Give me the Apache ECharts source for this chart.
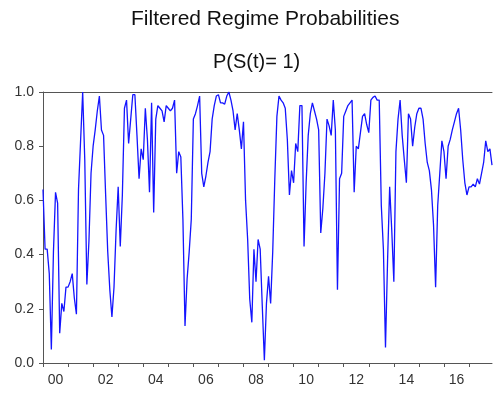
<!DOCTYPE html>
<html>
<head>
<meta charset="utf-8">
<script src="https://cdn.jsdelivr.net/npm/echarts@6/dist/echarts.min.js"></script>
<style>
  html, body { margin: 0; padding: 0; background: #fff; }
  #chart { width: 493px; height: 393px; }
</style>
</head>
<body>
<div id="chart"></div>
<script>
// Monthly sample, January 2000 to December 2017
const startYear = 2000;
const endYear = 2017;

// Filtered probability of regime 1, one value per month
const probRegime1 = [
  0.64, 0.42, 0.42, 0.33, 0.05, 0.41, 0.63, 0.59, 0.11, 0.22, 0.19, 0.28,
  0.28, 0.30, 0.33, 0.24, 0.18, 0.64, 0.82, 1.00, 0.75, 0.29, 0.45, 0.70,
  0.80, 0.86, 0.93, 0.985, 0.86, 0.84, 0.62, 0.41, 0.27, 0.17, 0.28, 0.49,
  0.65, 0.43, 0.62, 0.94, 0.97, 0.81, 0.90, 0.99, 0.99, 0.84, 0.68, 0.79,
  0.75, 0.94, 0.825, 0.63, 0.96, 0.555, 0.90, 0.95, 0.94, 0.93, 0.89, 0.95,
  0.94, 0.93, 0.94, 0.97, 0.70, 0.78, 0.76, 0.53, 0.137, 0.31, 0.41, 0.53,
  0.90, 0.92, 0.95, 0.985, 0.70, 0.65, 0.69, 0.74, 0.78, 0.90, 0.95, 0.985,
  0.99, 0.96, 0.96, 0.955, 0.985, 1.00, 0.97, 0.93, 0.86, 0.92, 0.86, 0.79,
  0.89, 0.60, 0.456, 0.235, 0.15, 0.42, 0.30, 0.456, 0.42, 0.21, 0.01, 0.22,
  0.32, 0.22, 0.41, 0.68, 0.91, 0.985, 0.97, 0.96, 0.94, 0.825, 0.62, 0.71,
  0.665, 0.81, 0.78, 0.95, 0.95, 0.43, 0.665, 0.84, 0.92, 0.96, 0.93, 0.90,
  0.86, 0.48, 0.57, 0.70, 0.90, 0.875, 0.84, 0.97, 0.86, 0.27, 0.68, 0.70,
  0.91, 0.93, 0.95, 0.96, 0.97, 0.63, 0.80, 0.79, 0.85, 0.91, 0.92, 0.88,
  0.85, 0.97, 0.98, 0.985, 0.97, 0.97, 0.58, 0.42, 0.057, 0.38, 0.65, 0.49,
  0.30, 0.78, 0.90, 0.97, 0.84, 0.75, 0.665, 0.92, 0.90, 0.80, 0.87, 0.92,
  0.94, 0.94, 0.90, 0.81, 0.74, 0.71, 0.64, 0.51, 0.28, 0.58, 0.70, 0.82,
  0.78, 0.68, 0.80, 0.825, 0.86, 0.89, 0.92, 0.94, 0.86, 0.75, 0.665, 0.62,
  0.65, 0.65, 0.66, 0.65, 0.68, 0.66, 0.70, 0.74, 0.82, 0.78, 0.79, 0.73
];

// Y axis tick labels
const yTicks = [0.0, 0.2, 0.4, 0.6, 0.8, 1.0];

const months = [];
for (let y = startYear; y <= endYear; y++) {
  for (let m = 1; m <= 12; m++) {
    months.push(y + '-' + String(m).padStart(2, '0'));
  }
}

const axisColor = '#555';
const labelFont = { fontFamily: 'Liberation Sans, Arial, sans-serif', fontSize: 14, color: '#333' };

const chart = echarts.init(document.getElementById('chart'), null, { renderer: 'canvas' });
chart.setOption({
  animation: false,
  backgroundColor: '#fff',
  graphic: [
    {
      type: 'text', left: 268 - 137, top: 9,
      style: { text: 'Filtered Regime Probabilities', fontFamily: 'Liberation Sans, Arial, sans-serif',
               fontSize: 21, fill: '#111' }
    },
    {
      type: 'text', left: 213, top: 52,
      style: { text: 'P(S(t)= 1)', fontFamily: 'Liberation Sans, Arial, sans-serif',
               fontSize: 20, fill: '#111' }
    }
  ],
  grid: { left: 43, right: 1, top: 92, bottom: 30, containLabel: false },
  xAxis: [
    {
      type: 'category',
      data: months,
      boundaryGap: false,
      axisLine: { show: true, lineStyle: { color: axisColor, width: 1 } },
      axisTick: {
        show: true, inside: false, length: 4,
        interval: (i) => i % 12 === 0,
        lineStyle: { color: axisColor }
      },
      axisLabel: {
        show: true, margin: 10, ...labelFont,
        interval: (i) => i % 24 === 6,
        formatter: (v) => v.slice(2, 4)
      },
      splitLine: { show: false }
    },
    {
      type: 'category',
      data: months,
      boundaryGap: false,
      position: 'top',
      axisLine: { show: true, lineStyle: { color: axisColor, width: 1 } },
      axisTick: { show: false },
      axisLabel: { show: false },
      splitLine: { show: false }
    }
  ],
  yAxis: {
    type: 'value',
    min: yTicks[0],
    max: yTicks[yTicks.length - 1],
    interval: 0.2,
    axisLine: { show: true, lineStyle: { color: axisColor, width: 1 } },
    axisTick: { show: true, inside: false, length: 4, lineStyle: { color: axisColor } },
    axisLabel: { margin: 9, ...labelFont, formatter: (v) => v.toFixed(1) },
    splitLine: { show: false }
  },
  series: [
    {
      type: 'line',
      data: probRegime1,
      xAxisIndex: 0,
      showSymbol: false,
      symbol: 'none',
      lineStyle: { color: '#1414ff', width: 1.3 },
      emphasis: { disabled: true }
    }
  ]
});
</script>
</body>
</html>
